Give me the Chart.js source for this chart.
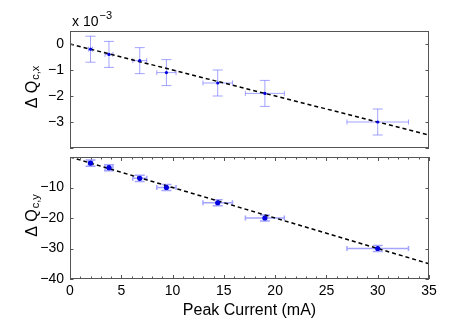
<!DOCTYPE html>
<html>
<head>
<meta charset="utf-8">
<script src="https://cdn.jsdelivr.net/npm/chart.js@4.4.1/dist/chart.umd.min.js"></script>
<style>
body { margin: 0; background: #fff; }
#wrap { position: relative; width: 463px; height: 320px; }
#topWrap { position: absolute; left: 0; top: 0; width: 463px; height: 152px; }
#botWrap { position: absolute; left: 0; top: 153px; width: 463px; height: 167px; }
</style>
</head>
<body>
<div id="wrap">
  <div id="topWrap"><canvas id="topChart"></canvas></div>
  <div id="botWrap"><canvas id="botChart"></canvas></div>
</div>
<script>
// measured points
const peakCurrent = [2, 3.8, 6.8, 9.4, 14.4, 19, 30];
const currentErr = [0.2, 0.38, 0.68, 0.94, 1.44, 1.9, 3.0];
const dQx = [-0.2, -0.4, -0.64, -1.1, -1.5, -1.9, -3.0]; // in units of 1e-3
const dQxErr = [0.5, 0.5, 0.5, 0.5, 0.5, 0.5, 0.5];
const dQy = [-2, -3.5, -7, -10, -15, -20, -30];
const dQyErr = [1, 1, 1, 1, 1, 1, 1];

// linear fits
const fitX = [0, 35];
const fitQx = [0, -3.5];
const fitQy = [0, -35];

const FONT = "'Liberation Sans', Arial, sans-serif";
const FRAME = '#555';
const ERR_COLOR = 'rgba(90, 90, 255, 0.55)';

function minusSign(v) {
    return String(v).replace('-', '\u2212');
}

function toPoints(xs, ys) {
    return xs.map((x, i) => ({ x: x, y: ys[i] }));
}

// frame, inward ticks, error bars and axis titles
function makeDecor(yErr, opts) {
    return {
        id: 'decor',
        beforeDatasetsDraw(chart) {
            const ctx = chart.ctx;
            const xs = chart.scales.x, ys = chart.scales.y;
            ctx.save();
            ctx.strokeStyle = ERR_COLOR;
            ctx.lineWidth = opts.errWidth;
            for (let i = 0; i < peakCurrent.length; i++) {
                const yVals = opts.values;
                const px = xs.getPixelForValue(peakCurrent[i]);
                const py = ys.getPixelForValue(yVals[i]);
                const yTop = ys.getPixelForValue(yVals[i] + yErr[i]);
                const yBot = ys.getPixelForValue(yVals[i] - yErr[i]);
                const xL = xs.getPixelForValue(peakCurrent[i] - currentErr[i]);
                const xR = xs.getPixelForValue(peakCurrent[i] + currentErr[i]);
                ctx.beginPath();
                ctx.moveTo(px, yTop); ctx.lineTo(px, yBot);
                ctx.moveTo(px - 5, yTop); ctx.lineTo(px + 5, yTop);
                ctx.moveTo(px - 5, yBot); ctx.lineTo(px + 5, yBot);
                ctx.moveTo(xL, py); ctx.lineTo(xR, py);
                ctx.moveTo(xL, py - 2.5); ctx.lineTo(xL, py + 2.5);
                ctx.moveTo(xR, py - 2.5); ctx.lineTo(xR, py + 2.5);
                ctx.stroke();
            }
            ctx.restore();
        },
        afterDraw(chart) {
            const ctx = chart.ctx;
            const a = chart.chartArea;
            const xs = chart.scales.x, ys = chart.scales.y;
            ctx.save();
            ctx.strokeStyle = FRAME;
            ctx.lineWidth = 1;
            ctx.strokeRect(Math.round(a.left) + 0.5, Math.round(a.top) + 0.5,
                Math.round(a.right - a.left) - 1, Math.round(a.bottom - a.top) - 1);
            ctx.beginPath();
            // y ticks on both sides
            ys.ticks.forEach(t => {
                const py = Math.round(ys.getPixelForValue(t.value)) + 0.5;
                ctx.moveTo(a.left, py); ctx.lineTo(a.left + 3.5, py);
                ctx.moveTo(a.right, py); ctx.lineTo(a.right - 3.5, py);
            });
            // x ticks (minor every 1 mA)
            if (opts.xTicks) {
                for (let v = 0; v <= 35; v++) {
                    const px = Math.round(xs.getPixelForValue(v)) + 0.5;
                    const len = v % 5 === 0 ? 4 : 2.5;
                    ctx.moveTo(px, a.bottom); ctx.lineTo(px, a.bottom - len);
                    ctx.moveTo(px, a.top); ctx.lineTo(px, a.top + len);
                }
            }
            ctx.stroke();

            // y axis title with subscript
            ctx.fillStyle = '#000';
            ctx.translate(37, (a.top + a.bottom) / 2 - 2);
            ctx.rotate(-Math.PI / 2);
            ctx.font = '16px ' + FONT;
            const wMain = ctx.measureText(opts.title).width;
            ctx.font = '11px ' + FONT;
            const wSub = ctx.measureText(opts.sub).width;
            const start = -(wMain + wSub) / 2;
            ctx.font = '16px ' + FONT;
            ctx.textBaseline = 'alphabetic';
            ctx.fillText(opts.title, start, 0);
            ctx.font = '11px ' + FONT;
            ctx.fillText(opts.sub, start + wMain + 1, 2);
            ctx.restore();

            if (opts.exponent) {
                ctx.save();
                ctx.fillStyle = '#000';
                ctx.font = '14px ' + FONT;
                ctx.fillText('x 10', 72, 26);
                const w = ctx.measureText('x 10').width;
                ctx.font = '11px ' + FONT;
                ctx.fillText('\u22123', 72 + w + 1, 19);
                ctx.restore();
            }
        }
    };
}

function buildChart(id, values, fitValues, yMin, yMax, yStep, labelFn, showX, pointR, decor) {
    const ctx = document.getElementById(id).getContext('2d');
    return new Chart(ctx, {
        type: 'scatter',
        data: {
            datasets: [{
                data: toPoints(peakCurrent, values),
                backgroundColor: '#0000dd',
                borderColor: '#0000dd',
                pointRadius: pointR,
                pointBorderWidth: 0
            }, {
                data: toPoints(fitX, fitValues),
                showLine: true,
                borderColor: '#000',
                borderWidth: 1.5,
                borderDash: [4, 3],
                pointRadius: 0
            }]
        },
        options: {
            responsive: true,
            maintainAspectRatio: false,
            animation: false,
            layout: { padding: showX ? { top: 1, right: 34 } : { top: 31, right: 34 } },
            plugins: { legend: { display: false }, tooltip: { enabled: false } },
            scales: {
                x: {
                    type: 'linear',
                    display: showX,
                    min: 0,
                    max: 35,
                    grid: { display: false, drawTicks: false },
                    border: { display: false },
                    ticks: {
                        stepSize: 5,
                        padding: 4,
                        color: '#000',
                        font: { family: FONT, size: 14 }
                    },
                    title: {
                        display: true,
                        text: 'Peak Current (mA)',
                        color: '#000',
                        font: { family: FONT, size: 16 },
                        padding: { top: 0, bottom: 0 }
                    },
                    afterFit: s => {
                        if (showX) s.height = 41;
                        s.paddingLeft = 0;
                        s.paddingRight = 0;
                    }
                },
                y: {
                    min: yMin,
                    max: yMax,
                    grid: { display: false, drawTicks: false },
                    border: { display: false },
                    ticks: {
                        stepSize: yStep,
                        padding: 6,
                        color: '#000',
                        font: { family: FONT, size: 14 },
                        callback: labelFn
                    },
                    afterFit: s => {
                        s.width = 70;
                        s.paddingTop = 0;
                        s.paddingBottom = 0;
                    }
                }
            }
        },
        plugins: [decor]
    });
}

buildChart('topChart', dQx, fitQx, -4, 0.5, 0.5,
    v => (Math.abs(v - Math.round(v)) < 1e-6 && v > -3.9 && v < 0.1) ? minusSign(Math.round(v)) : '',
    false, 1.6,
    makeDecor(dQxErr, { values: dQx, errWidth: 1, title: '\u0394 Q', sub: 'c,x', xTicks: false, exponent: true }));

buildChart('botChart', dQy, fitQy, -40, 0, 5,
    v => (v % 10 === 0 && v < 0) ? minusSign(v) : '',
    true, 2.6,
    makeDecor(dQyErr, { values: dQy, errWidth: 1.5, title: '\u0394 Q', sub: 'c,y', xTicks: true, exponent: false }));
</script>
</body>
</html>
